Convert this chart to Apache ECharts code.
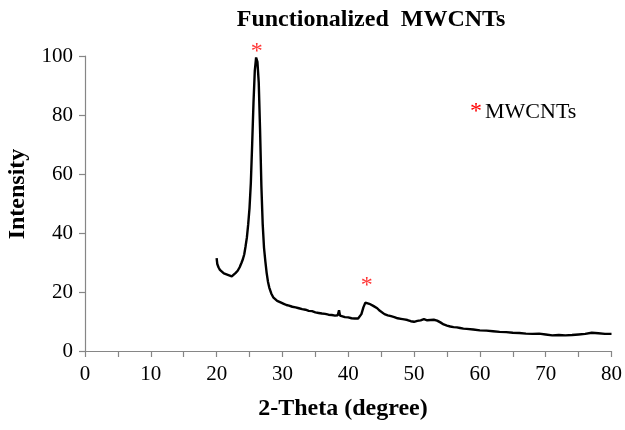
<!DOCTYPE html>
<html><head><meta charset="utf-8">
<script src="https://cdn.jsdelivr.net/npm/echarts@6/dist/echarts.min.js"></script>
<style>html,body{margin:0;padding:0;background:#fff}#c{width:625px;height:430px}</style>
</head><body><div id="c"></div>
<script>
var theta = [20.0,20.05,20.1,20.3,20.5,20.8,21.1,21.4,21.7,22.0,22.3,22.6,22.9,23.2,23.5,23.8,24.0,24.2,24.4,24.6,24.8,25.0,25.2,25.4,25.6,25.8,26.0,26.1,26.2,26.4,26.6,26.8,27.0,27.2,27.4,27.6,27.8,28.0,28.3,28.6,28.9,29.2,29.5,29.8,30.2,30.6,31.0,31.5,32.0,32.5,33.0,33.5,34.0,34.5,35.0,35.5,36.0,36.5,37.0,37.5,38.0,38.4,38.6,38.75,39.0,39.5,40.0,40.5,41.0,41.5,41.8,42.0,42.3,42.6,42.9,43.2,43.5,43.8,44.1,44.4,44.7,45.0,45.5,46.0,46.5,47.0,47.5,48.0,48.5,49.0,49.5,50.0,50.5,51.0,51.5,52.0,52.5,53.0,53.5,54.0,54.5,55.0,55.5,56.0,56.5,57.0,57.5,58.0,59.0,60.0,61.0,62.0,63.0,64.0,65.0,66.0,67.0,68.0,69.0,70.0,71.0,72.0,73.0,74.0,75.0,76.0,77.0,78.0,79.0,80.0];
var intensity = [31.5,30.5,29.5,28.3,27.5,26.9,26.3,26.6,25.8,26.0,25.3,25.7,26.5,27.2,28.4,30.0,31.2,32.8,35.5,38.5,43,48.5,57,70,84,95,99.5,100,98,91,75,56,43,35,30.5,26.5,23.5,21.5,19.5,18.2,17.6,17.0,16.6,16.4,16.0,15.6,15.4,15.0,14.8,14.5,14.2,14.0,13.6,13.5,13.1,12.9,12.7,12.6,12.3,12.2,12.0,12.1,13.8,12.0,11.6,11.5,11.4,11.1,11.0,11.0,11.5,12.5,14.8,16.4,16.6,16.0,15.6,15.3,15.0,14.5,13.8,13.2,12.5,12.1,11.8,11.5,11.1,10.9,10.7,10.5,10.1,9.9,10.2,10.4,10.8,10.4,10.5,10.6,10.3,9.7,9.0,8.6,8.3,8.1,8.0,7.8,7.6,7.5,7.3,7.0,6.9,6.7,6.5,6.4,6.2,6.1,5.9,5.8,5.9,5.6,5.3,5.4,5.3,5.4,5.6,5.8,6.2,6.0,5.8,5.8];
var peakMarks = [[26.1, 101.4], [42.8, 22.0]];
var chartTitle = 'Functionalized  MWCNTs';
var xName = '2-Theta (degree)';
var yName = 'Intensity';
var legendText = 'MWCNTs';

var serif = 'Liberation Serif';
var axisGray = '#868686';
var chart = echarts.init(document.getElementById('c'), null, {renderer: 'canvas'});
var lineData = theta.map(function (t, i) { return [t, intensity[i]]; });
chart.setOption({
  animation: false,
  backgroundColor: '#fff',
  grid: {left: 85, right: 11, top: 56, bottom: 79},
  xAxis: {
    type: 'value', min: 0, max: 80, interval: 5,
    axisLine: {lineStyle: {color: axisGray, width: 1.2}},
    axisTick: {show: true, inside: false, length: 6, lineStyle: {color: axisGray, width: 1.2}},
    axisLabel: {margin: 13, color: '#000', fontFamily: serif, fontSize: 21,
      formatter: function (v) { return v % 10 === 0 ? String(v) : ''; }},
    splitLine: {show: false}
  },
  yAxis: {
    type: 'value', min: 0, max: 100, interval: 20,
    axisLine: {show: true, lineStyle: {color: axisGray, width: 1.2}},
    axisTick: {show: true, inside: false, length: 6, lineStyle: {color: axisGray, width: 1.2}},
    axisLabel: {margin: 12, color: '#000', fontFamily: serif, fontSize: 21},
    splitLine: {show: false}
  },
  series: [
    {type: 'line', data: lineData, showSymbol: false, symbol: 'none',
     lineStyle: {color: '#000', width: 2.4}},
    {type: 'scatter', data: peakMarks, symbolSize: 0.1, clip: false,
     label: {show: true, position: 'inside', formatter: '*', color: '#ff0000',
       fontFamily: serif, fontSize: 24}}
  ],
  graphic: [
    {type: 'text', x: 371, y: 20, style: {text: chartTitle, font: 'bold 24px "Liberation Serif"', fill: '#000', align: 'center', verticalAlign: 'middle'}},
    {type: 'text', x: 343, y: 409, style: {text: xName, font: 'bold 24px "Liberation Serif"', fill: '#000', align: 'center', verticalAlign: 'middle'}},
    {type: 'text', x: 18, y: 194, rotation: Math.PI / 2, style: {text: yName, font: 'bold 24px "Liberation Serif"', fill: '#000', align: 'center', verticalAlign: 'middle'}},
    {type: 'text', x: 476, y: 112, style: {text: '*', font: '24px "Liberation Serif"', fill: '#ff0000', align: 'center', verticalAlign: 'middle'}},
    {type: 'text', x: 485, y: 112, style: {text: legendText, font: '22px "Liberation Serif"', fill: '#000', align: 'left', verticalAlign: 'middle'}}
  ]
});
</script></body></html>
